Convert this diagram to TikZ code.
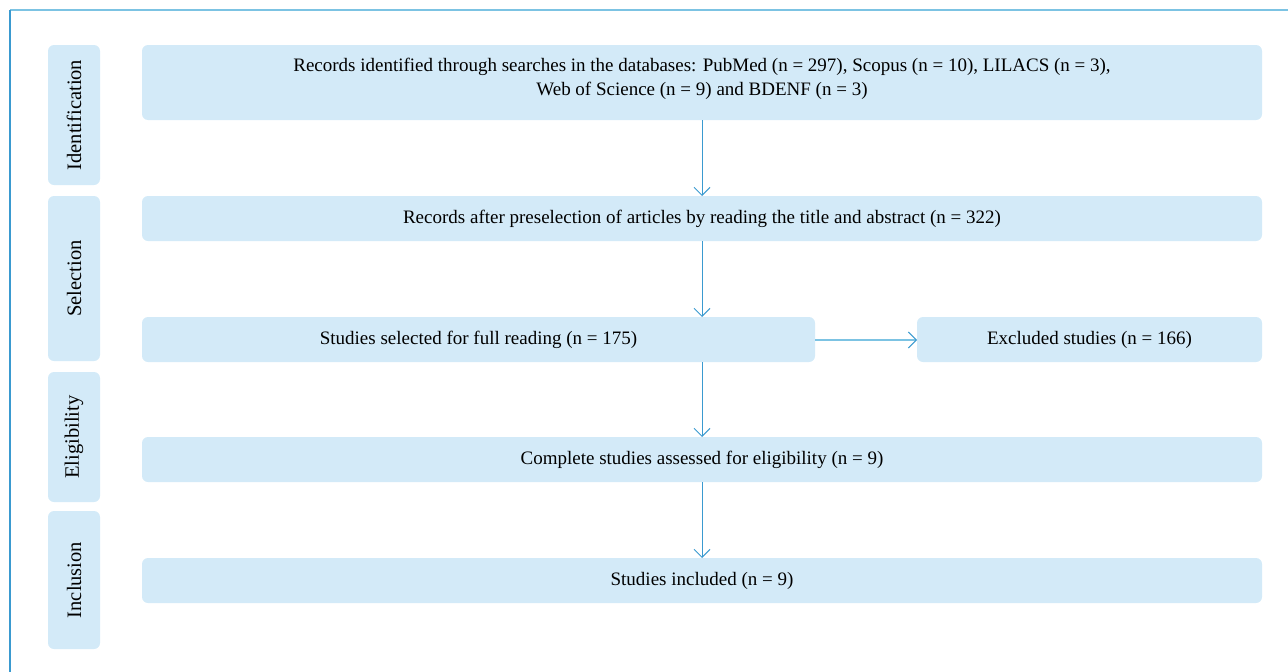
\documentclass[tikz,border=0pt]{standalone}
\usepackage{fontspec}
\setmainfont{Liberation Serif}
\usetikzlibrary{arrows.meta}
\definecolor{boxfill}{HTML}{D3EAF8}
\definecolor{arrowblue}{HTML}{3A9AD0}
\definecolor{frametop}{HTML}{7CC3E3}
\definecolor{frameleft}{HTML}{3A9AD0}
\tikzset{
  mainbox/.style={fill=boxfill, rounded corners=6pt, inner sep=0pt},
  stagebox/.style={fill=boxfill, rounded corners=6pt},
  lbl/.style={font=\fontsize{19}{24}\selectfont, align=center, text=black},
  slbl/.style={font=\fontsize{20.5}{24}\selectfont, align=center, text=black, rotate=90},
  flow/.style={draw=arrowblue, line width=1pt, -{Straight Barb[length=8pt,width=16pt,line width=1pt]}},
  flowh/.style={draw=frametop, line width=1.6pt, -{Straight Barb[length=8pt,width=16pt,line width=1pt,color=arrowblue]}}
}
\begin{document}
\begin{tikzpicture}[x=1pt,y=-1pt]
\useasboundingbox (0,0) rectangle (1288,672);
\draw[frametop, line width=2pt] (10,10) -- (1288,10);
\draw[frameleft, line width=1.5pt] (10,10) -- (10,672);
% stage boxes
\fill[stagebox] (48,45) rectangle (100,185);
\fill[stagebox] (48,196) rectangle (100,361);
\fill[stagebox] (48,372) rectangle (100,502);
\fill[stagebox] (48,511) rectangle (100,649);
\node[slbl] (sid) at (74,115) {Identification};
\node[slbl] (ssel) at (74,278.5) {Selection};
\node[slbl] (selig) at (74,437) {Eligibility};
\node[slbl] (sinc) at (74,580) {Inclusion};
% main boxes
\fill[mainbox] (142,45) rectangle (1262,120);
\coordinate (b1top) at (702,45);
\coordinate (b1bot) at (702,120);
\node[lbl] (t1) at (702,79) {Records identified through searches in the databases: PubMed (n = 297), Scopus (n = 10), LILACS (n = 3),\\Web of Science (n = 9) and BDENF (n = 3)};
\fill[mainbox] (142,196) rectangle (1262,241);
\node[lbl] (t2) at (702,218.5) {Records after preselection of articles by reading the title and abstract (n = 322)};
\coordinate (b2top) at (702,196);
\coordinate (b2bot) at (702,241);
\fill[mainbox] (142,317) rectangle (815,362);
\node[lbl] (t3) at (478.5,339.5) {Studies selected for full reading (n = 175)};
\coordinate (b3top) at (702,317);
\coordinate (b3bot) at (702,362);
\coordinate (b3right) at (815,340);
\fill[mainbox] (917,317) rectangle (1262,362);
\node[lbl] (tex) at (1089.5,339.5) {Excluded studies (n = 166)};
\coordinate (bexleft) at (917,340);
\fill[mainbox] (142,437) rectangle (1262,482);
\node[lbl] (t4) at (702,459.5) {Complete studies assessed for eligibility (n = 9)};
\coordinate (b4top) at (702,437);
\coordinate (b4bot) at (702,482);
\fill[mainbox] (142,558) rectangle (1262,603);
\node[lbl] (t5) at (702,580.5) {Studies included (n = 9)};
\coordinate (b5top) at (702,558);
% arrows
\draw[flow] (b1bot) -- (b2top);
\draw[flow] (b2bot) -- (b3top);
\draw[flow] (b3bot) -- (b4top);
\draw[flow] (b4bot) -- (b5top);
\draw[flowh] (b3right) -- (bexleft);
\end{tikzpicture}
\end{document}
